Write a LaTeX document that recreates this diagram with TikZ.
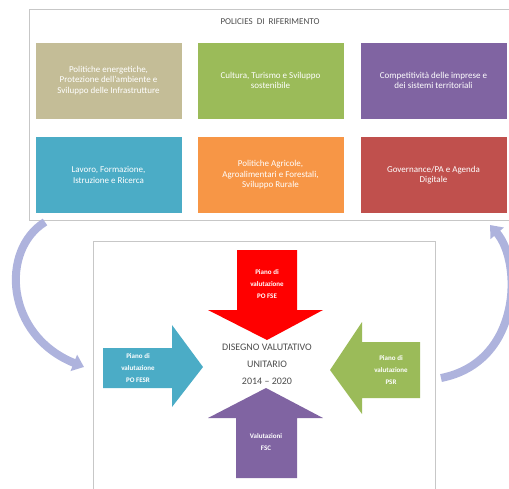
\documentclass[tikz,border=0pt]{standalone}
\usepackage{fontspec}
\setmainfont{Carlito}
\usepackage{tikz}
\usetikzlibrary{arrows.meta,calc}
\definecolor{clrtan}{HTML}{C4BD97}
\definecolor{clrgreen}{HTML}{9BBB59}
\definecolor{clrpurple}{HTML}{8064A2}
\definecolor{clrblue}{HTML}{4BACC6}
\definecolor{clrorange}{HTML}{F79646}
\definecolor{clrred}{HTML}{C0504D}
\definecolor{clrbright}{HTML}{FF0000}
\definecolor{clrloop}{HTML}{AEB3DD}
\newcommand{\boxw}{146pt}
\newcommand{\boxh}{76pt}

\begin{document}
\begin{tikzpicture}[x=1pt,y=-1pt,
    policy/.style={minimum width=\boxw, minimum height=\boxh, inner sep=0pt,
        align=center, text=white,
        font=\fontsize{9}{10.5}\selectfont},
    arrowtext/.style={text=white, align=center, font=\fontsize{7}{12}\selectfont\bfseries},
    frame/.style={draw=black!22, line width=1pt},
    loop/.style={draw=clrloop, line width=8pt,
        -{Triangle[width=17pt,length=11pt]}}]

    \useasboundingbox (0,0) rectangle (509,488);

%frames
    \draw[frame] (29,9) rectangle (512,220);
    \draw[frame] (93,241) rectangle (435,492);
    \node[font=\fontsize{9}{10}\selectfont, text=black!70] (title) at (270,22)
        {POLICIES \ DI \ RIFERIMENTO};

%policy boxes
    \foreach\n/\x/\y/\c/\t in {
        1/108.5/80.5/clrtan/{Politiche energetiche,\\Protezione dell'ambiente e\\Sviluppo delle Infrastrutture},
        2/270.5/80.5/clrgreen/{Cultura, Turismo e Sviluppo\\sostenibile},
        3/433.5/80.5/clrpurple/{Competitività delle imprese e\\dei sistemi territoriali},
        4/108.5/175/clrblue/{Lavoro, Formazione,\\Istruzione e Ricerca},
        5/270.5/175/clrorange/{Politiche Agricole,\\Agroalimentari e Forestali,\\Sviluppo Rurale},
        6/433.5/175/clrred/{Governance/PA e Agenda\\Digitale}}
    {
        \node[policy, fill=\c] (p\n) at (\x,\y) {\t};
    }

%block arrows
    \fill[clrbright] (237,250) -- (297,250) -- (297,310) -- (323,310) -- (267,340)
        -- (208,310) -- (237,310) -- cycle;
    \fill[clrblue] (103,348) -- (172,348) -- (172,325) -- (203,367) -- (172,407)
        -- (172,388) -- (103,388) -- cycle;
    \fill[clrgreen] (420,342) -- (362,342) -- (362,322) -- (330,370) -- (362,414)
        -- (362,398) -- (420,398) -- cycle;
    \fill[clrpurple] (236,478) -- (236,418) -- (208,418) -- (266,388) -- (323,418)
        -- (297,418) -- (297,478) -- cycle;

%arrow labels
    \node[arrowtext] (afse) at (267,284) {Piano di\\valutazione\\PO FSE};
    \node[arrowtext] (afesr) at (138,368) {Piano di\\valutazione\\PO FESR};
    \node[arrowtext] (apsr) at (391,370) {Piano di\\valutazione\\PSR};
    \node[arrowtext] (afsc) at (266,442) {Valutazioni\\FSC};
    \node[align=center, text=black!70, font=\fontsize{10}{17}\selectfont] (core) at (267,364)
        {DISEGNO VALUTATIVO\\UNITARIO\\2014 -- 2020};

%loops
    \coordinate (l0) at (45,222);
    \coordinate (l1) at (84,367);
    \coordinate (r0) at (441,378);
    \coordinate (r1) at (490,225);
    \draw[loop] (l0) .. controls (0,250) and (5,335) .. (l1);
    \draw[loop] (r0) .. controls (522,362) and (522,262) .. (r1);
\end{tikzpicture}
\end{document}
